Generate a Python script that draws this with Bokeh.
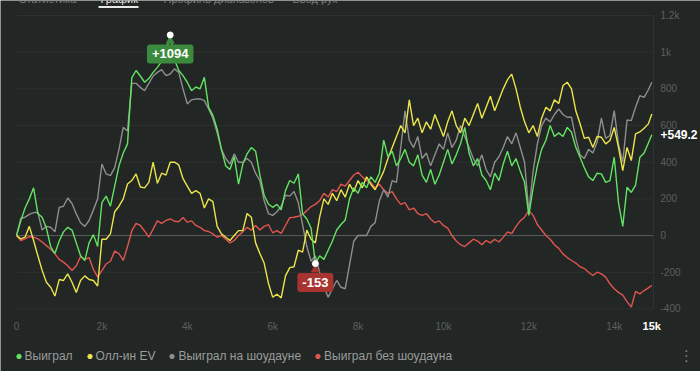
import numpy as np
from bokeh.plotting import figure
from bokeh.models import FixedTicker, Label, Legend, LegendItem, BoxAnnotation
from bokeh.embed import file_html
from bokeh.resources import INLINE

# ---------------- data ----------------
hands = list(range(0, 14900, 100)) + [14880]

won = [  # Выиграл
    0, 80, 150, 200, 260, 120, 100, 40, -60, -98,
    -30, 20, 45, 30, -40, -110, -136, -40, 5, -60,
    180, 215, 160, 270, 380, 450, 500, 860, 900, 870,
    836, 856, 890, 917, 950, 1000, 1094, 960, 900, 872,
    836, 790, 810, 800, 863, 699, 655, 580, 470, 380,
    360, 430, 280, 390, 445, 480, 460, 330, 220, 172,
    154, 170, 140, 245, 300, 285, 336, 118, 90, 40,
    -153, -110, -130, -80, -30, 30, 60, 85, 200, 260,
    230, 290, 260, 320, 290, 340, 520, 430, 460, 380,
    420, 470, 400, 380, 440, 330, 290, 360, 280, 330,
    400, 470, 390, 440, 500, 590, 450, 380, 420, 330,
    300, 250, 340, 300, 390, 460, 380, 420, 350, 290,
    110, 260, 380, 470, 520, 600, 540, 560, 540, 590,
    563, 481, 427, 370, 320, 300, 340, 336, 290, 300,
    427, 180, 50, 263, 235, 275, 427, 450, 505, 549.2,
]

allin_ev = [  # Олл-ин EV
    0, -18, -9, 50, -27, -110, -190, -255, -282, -330,
    -240, -245, -209, -255, -310, -245, -220, -240, -245, -275,
    -20, -20, 9, 130, 160, 200, 281, 300, 336, 265,
    260, 290, 400, 285, 340, 330, 400, 400, 385, 310,
    270, 230, 245, 230, 150, 200, 185, 50, 9, -9,
    -27, 0, 27, 27, 120, 100, -40, -98, -150, -260,
    -336, -320, -340, -220, -175, -170, -80, -90, 30, -20,
    -40, 100, 200, 170, 230, 190, 250, 210, 280, 240,
    300, 260, 320, 280, 250, 300, 350, 420, 480, 540,
    600, 560, 740, 600, 640, 560, 620, 580, 660, 600,
    540, 620, 680, 600, 560, 640, 600, 660, 720, 640,
    700, 760, 680, 740, 800, 850, 880, 800, 700, 620,
    560, 600, 540, 640, 700, 680, 740, 720, 818, 836,
    800, 681, 610, 530, 536, 480, 540, 536, 500, 518,
    590, 481, 354, 481, 409, 554, 565, 585, 609, 663,
]

won_sd = [  # Выиграл на шоудауне
    0, 93, 100, 115, 125, 127, 30, 50, 45, 20,
    154, 160, 205, 175, 118, 70, 50, 82, 140, 200,
    390, 336, 327, 370, 470, 590, 570, 830, 830, 808,
    790, 830, 870, 890, 905, 872, 881, 909, 890, 800,
    718, 740, 745, 745, 736, 690, 640, 560, 470, 420,
    390, 445, 400, 400, 420, 400, 340, 300, 191, 120,
    110, 130, 160, 220, 215, 240, 180, 60, -60, -140,
    -110, -200, -280, -336, -290, -245, -282, -290, -160, -30,
    0, 0, 0, 50, 70, 190, 250, 210, 300, 290,
    480, 680, 520, 480, 540, 420, 450, 380, 440, 500,
    470, 560, 480, 520, 600, 540, 480, 420, 380, 440,
    360, 320, 400, 430, 480, 540, 500, 560, 480, 400,
    130, 350, 500, 600, 640, 620, 660, 690, 660, 645,
    645, 530, 440, 420, 470, 450, 510, 640, 530, 545,
    681, 500, 400, 630, 627, 700, 763, 754, 795, 836,
]

won_nsd = [  # Выиграл без шоудауна
    0, -27, -18, -5, -9, -18, -35, -55, -75, -100,
    -130, -145, -165, -191, -165, -115, -130, -120, -185, -225,
    -191, -155, -140, -85, -98, -136, -60, 25, 66, 55,
    25, -9, 35, 80, 66, 82, 91, 78, 75, 98,
    73, 80, 55, 45, 27, 22, 9, -9, 0, -20,
    -40, -27, 0, 20, 45, 30, 55, 30, 50, 60,
    15, 27, 12, 55, 98, 100, 105, 115, 136, 158,
    170, 190, 230, 210, 250, 240, 280, 270, 300, 330,
    345, 320, 300, 290, 260, 280, 250, 230, 240, 200,
    170, 180, 140, 150, 120, 110, 120, 90, 70, 80,
    55, 40, 0, -30, -50, -60, -40, -20, -30, -50,
    -27, -40, -20, -35, -10, 20, 10, 50, 80, 100,
    136, 110, 60, 30, 0, -20, -50, -70, -100, -120,
    -136, -150, -170, -180, -200, -218, -200, -209, -227, -263,
    -290, -310, -325, -360, -390, -305, -318, -300, -285, -272,
]

series_names = ["Выиграл", "Олл-ин EV", "Выиграл на шоудауне", "Выиграл без шоудауна"]
series_colors = ["#62e462", "#ebe54b", "#8e8e8e", "#e0554f"]

x_ticks = [0, 2000, 4000, 6000, 8000, 10000, 12000, 14000]
x_tick_labels = ["0", "2k", "4k", "6k", "8k", "10k", "12k", "14k"]
y_ticks = [-400, -200, 0, 200, 400, 600, 800, 1000, 1200]
y_tick_labels = ["-400", "-200", "0", "200", "400", "600", "800", "1k", "1.2k"]

tab_names = ["Статистика", "График", "Профиль диапазонов", "Ввод рук"]

# ---------------- figure ----------------
W, H = 700, 371
BG = "#222624"
FONT = "Liberation Sans"
X_END = 14920          # right edge of the data area
Y_LO, Y_HI = -400, 1200

# the frame fills the whole canvas; the data area is bounded by the fixed axes
p = figure(width=W, height=H, x_range=(-375, 16021), y_range=(-741.4, 1281.8),
           output_backend="svg", toolbar_location=None, y_axis_location="right",
           min_border_left=0, min_border_right=0, min_border_top=0, min_border_bottom=0,
           background_fill_color=BG, border_fill_color=BG, outline_line_color=None,
           title=None)

p.xaxis.fixed_location = Y_LO
p.xaxis.bounds = (0, X_END)
p.yaxis.fixed_location = X_END
p.yaxis.bounds = (Y_LO, Y_HI)
p.xaxis.ticker = FixedTicker(ticks=x_ticks)
p.xaxis.major_label_overrides = dict(zip(x_ticks, x_tick_labels))
p.yaxis.ticker = FixedTicker(ticks=y_ticks)
p.yaxis.major_label_overrides = dict(zip(y_ticks, y_tick_labels))
for ax in (p.xaxis, p.yaxis):
    ax.major_tick_line_color = None
    ax.minor_tick_line_color = None
    ax.major_tick_out = 0
    ax.major_tick_in = 0
    ax.major_label_text_color = "#5c605e"
    ax.major_label_text_font = FONT
    ax.major_label_text_font_size = "10px"
p.xaxis.axis_line_color = None
p.xaxis.major_label_standoff = 12
p.yaxis.axis_line_color = "#2e3230"
p.yaxis.major_label_standoff = 7

p.xgrid.visible = False
p.ygrid.visible = False
# horizontal grid lines limited to the data area, from the y ticks
p.segment(x0=[0] * len(y_ticks), x1=[X_END] * len(y_ticks), y0=y_ticks, y1=y_ticks,
          line_color=["#5a5d5b" if t == 0 else "#2d312f" for t in y_ticks], line_width=1)

all_series = [won, allin_ev, won_sd, won_nsd]
for idx in [3, 2, 1, 0]:
    p.line(hands, all_series[idx], line_color=series_colors[idx], line_width=1.4)

# ---------------- max / min markers ----------------
arr = np.array(won)
imax = int(np.argmax(arr))
imin = int(np.argmin(arr))
units_per_px = (p.y_range.end - p.y_range.start) / H

for i, col, txt in [(imax, "#3b8a3d", f"+{arr[imax]:.0f}"),
                    (imin, "#a83431", f"{arr[imin]:.0f}")]:
    p.scatter([hands[i]], [arr[i] - 6 * units_per_px], marker="triangle", size=8,
              fill_color=col, line_color=col)
    p.scatter([hands[i]], [arr[i]], size=6, fill_color="white", line_color="white")
    p.add_layout(Label(x=hands[i], y=arr[i], y_offset=-19, text=txt,
                       text_align="center", text_baseline="middle",
                       text_color="white", text_font=FONT, text_font_size="13px",
                       text_font_style="bold",
                       background_fill_color=col, background_fill_alpha=1.0,
                       padding=5, border_radius=3))

# end-value label on the right and current hand count
p.add_layout(Label(x=X_END, y=won[-1], x_offset=7, text=f"+{won[-1]:.1f}",
                   text_align="left", text_baseline="middle", text_color="white",
                   text_font=FONT, text_font_size="12px", text_font_style="bold"))
p.add_layout(Label(x=hands[-1], y=Y_LO, y_offset=-17,
                   text=f"{round(hands[-1] / 1000)}k",
                   text_align="center", text_baseline="middle", text_color="white",
                   text_font=FONT, text_font_size="11px", text_font_style="bold"))
p.add_layout(Label(x=X_END, y=Y_LO, x_offset=33, y_offset=-47,
                   text="⋮", text_align="center", text_baseline="middle",
                   text_color="#7c7f7d", text_font="DejaVu Sans", text_font_size="15px"))

# ---------------- tabs cut off at the top (as in the reference) ----------------
for name, sx, col in zip(tab_names, [18, 100, 163, 292],
                         ["#7a7d7b", "#e8e8e8", "#7a7d7b", "#7a7d7b"]):
    p.add_layout(Label(x=sx, y=H + 2, x_units="screen", y_units="screen", text=name,
                       text_align="left", text_baseline="alphabetic", text_color=col,
                       text_font=FONT, text_font_size="11px"))
p.add_layout(BoxAnnotation(left=98, right=138, top=H - 5.5, bottom=H - 7.5,
                           left_units="screen", right_units="screen",
                           top_units="screen", bottom_units="screen",
                           fill_color="#e8e8e8", fill_alpha=1, line_color=None))

# ---------------- legend (dot markers at each series' last point, size 0 on the plot) ----
items = []
for name, col, ser in zip(series_names, series_colors, all_series):
    r = p.scatter([hands[-1]], [ser[-1]], size=0, fill_color=col, line_color=col)
    items.append(LegendItem(label=name, renderers=[r]))
legend = Legend(items=items, location=(12.5, 8.5), orientation="horizontal",
                label_text_font=FONT, label_text_font_size="12px",
                label_text_color="#9a9d9b", label_height=14, glyph_height=14,
                glyph_width=11, label_standoff=1, spacing=11, padding=0, margin=0,
                border_line_alpha=0, background_fill_alpha=0)
p.add_layout(legend)

open("out.html", "w").write(file_html(p, INLINE))
